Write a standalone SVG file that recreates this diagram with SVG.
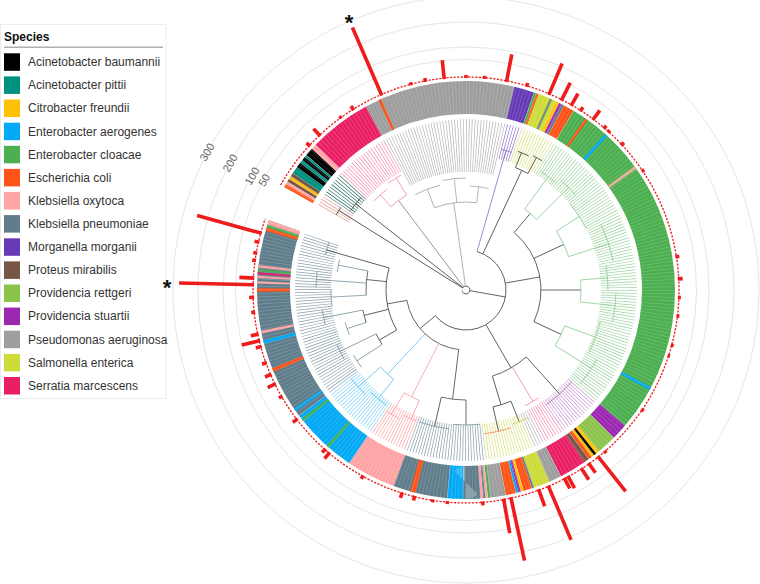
<svg xmlns="http://www.w3.org/2000/svg" width="760" height="584" viewBox="0 0 760 584">
<defs>
<style>
.ring{fill:none;stroke-width:33}
.lf{fill:none}
.t line,.t circle{fill:none;stroke-width:0.8}
.d{stroke:#4a4a4a}
.gy{stroke:#a8a8a8}
.pk{stroke:#f48fb1}
.gn{stroke:#8fcf92}
.kp{stroke:#7f97a3}
.bl{stroke:#5cc6f5}
.pu{stroke:#9575cd}
.bars line{stroke:#ee1c1c;stroke-width:3.6}
.grid{fill:none;stroke:#e6e6e6;stroke-width:1}
.lg text{font-family:"Liberation Sans",Arial,sans-serif;font-size:12px;fill:#333}
.sc{font-family:"Liberation Sans",Arial,sans-serif;font-size:11px;fill:#666}
.ast{font-family:"Liberation Sans",Arial,sans-serif;font-size:22px;font-weight:bold;fill:#111}
</style>
<mask id="lm" maskUnits="userSpaceOnUse" x="-300" y="-300" width="600" height="600">
<circle r="144.5" fill="none" stroke="#fff" stroke-width="53" pathLength="360" stroke-dasharray="0.28 0.72"/>
</mask>
</defs>
<rect width="760" height="584" fill="#fff"/>

<g id="legend" class="lg">
<rect x="0.5" y="24.5" width="165.5" height="374" fill="none" stroke="#ececec"/>
<text x="4" y="41" style="font-weight:bold;font-size:12px;fill:#111">Species</text>
<line x1="4" y1="47.3" x2="163" y2="47.3" stroke="#b0b0b0" stroke-width="1.5"/>
<g id="lg-ab"><rect x="4" y="53.3" width="16" height="17.5" fill="#000"/><text x="28" y="66.1">Acinetobacter baumannii</text></g>
<g id="lg-ap"><rect x="4" y="76.4" width="16" height="17.5" fill="#00917f"/><text x="28" y="89.2">Acinetobacter pittii</text></g>
<g id="lg-cf"><rect x="4" y="99.5" width="16" height="17.5" fill="#ffc107"/><text x="28" y="112.3">Citrobacter freundii</text></g>
<g id="lg-ea"><rect x="4" y="122.7" width="16" height="17.5" fill="#03a9f4"/><text x="28" y="135.5">Enterobacter aerogenes</text></g>
<g id="lg-ec"><rect x="4" y="145.8" width="16" height="17.5" fill="#4caf50"/><text x="28" y="158.6">Enterobacter cloacae</text></g>
<g id="lg-eco"><rect x="4" y="168.9" width="16" height="17.5" fill="#ff5317"/><text x="28" y="181.7">Escherichia coli</text></g>
<g id="lg-ko"><rect x="4" y="192.0" width="16" height="17.5" fill="#ffa4a4"/><text x="28" y="204.8">Klebsiella oxytoca</text></g>
<g id="lg-kp"><rect x="4" y="215.1" width="16" height="17.5" fill="#607d8b"/><text x="28" y="227.9">Klebsiella pneumoniae</text></g>
<g id="lg-mm"><rect x="4" y="238.3" width="16" height="17.5" fill="#673ab7"/><text x="28" y="251.1">Morganella morganii</text></g>
<g id="lg-pm"><rect x="4" y="261.4" width="16" height="17.5" fill="#795548"/><text x="28" y="274.2">Proteus mirabilis</text></g>
<g id="lg-pr"><rect x="4" y="284.5" width="16" height="17.5" fill="#8bc34a"/><text x="28" y="297.3">Providencia rettgeri</text></g>
<g id="lg-ps"><rect x="4" y="307.6" width="16" height="17.5" fill="#9c27b0"/><text x="28" y="320.4">Providencia stuartii</text></g>
<g id="lg-pa"><rect x="4" y="330.7" width="16" height="17.5" fill="#9e9e9e"/><text x="28" y="343.5">Pseudomonas aeruginosa</text></g>
<g id="lg-se"><rect x="4" y="353.9" width="16" height="17.5" fill="#cddc39"/><text x="28" y="366.7">Salmonella enterica</text></g>
<g id="lg-sm"><rect x="4" y="377.0" width="16" height="17.5" fill="#e91e63"/><text x="28" y="389.8">Serratia marcescens</text></g>
</g>

<g id="plot" transform="translate(466,290)">
<g id="grid">
<circle class="grid" r="230.5"/>
<circle class="grid" r="243"/>
<circle class="grid" r="268"/>
<circle class="grid" r="293"/>
</g>

<g id="leaves" mask="url(#lm)">
<circle class="lf" r="153" stroke-width="36" pathLength="360" stroke="#e0a090" stroke-dasharray="4.5 360" transform="rotate(-150.5)"/>
<circle class="lf" r="153" stroke-width="36" pathLength="360" stroke="#2f6f68" stroke-dasharray="8.5 360" transform="rotate(-146)"/>
<circle class="lf" r="153" stroke-width="36" pathLength="360" stroke="#f48fb1" stroke-dasharray="18.9 360" transform="rotate(-137.5)"/>
<circle class="lf" r="144.5" stroke-width="53" pathLength="360" stroke="#b5b5b5" stroke-dasharray="42 360" transform="rotate(-118.6)"/>
<circle class="lf" r="153" stroke-width="36" pathLength="360" stroke="#9575cd" stroke-dasharray="5.6 360" transform="rotate(-76.6)"/>
<circle class="lf" r="153" stroke-width="36" pathLength="360" stroke="#d9e27a" stroke-dasharray="12 360" transform="rotate(-71)"/>
<circle class="lf" r="153" stroke-width="36" pathLength="360" stroke="#9ed3a0" stroke-dasharray="99.5 360" transform="rotate(-59)"/>
<circle class="lf" r="153" stroke-width="36" pathLength="360" stroke="#c99ad6" stroke-dasharray="15 360" transform="rotate(40.5)"/>
<circle class="lf" r="153" stroke-width="36" pathLength="360" stroke="#f48fb1" stroke-dasharray="7.5 360" transform="rotate(55.5)"/>
<circle class="lf" r="153" stroke-width="36" pathLength="360" stroke="#b5b5b5" stroke-dasharray="3.5 360" transform="rotate(63)"/>
<circle class="lf" r="153" stroke-width="36" pathLength="360" stroke="#d9e27a" stroke-dasharray="16.8 360" transform="rotate(66.5)"/>
<circle class="lf" r="153" stroke-width="36" pathLength="360" stroke="#8aa0ab" stroke-dasharray="27 360" transform="rotate(83.3)"/>
<circle class="lf" r="153" stroke-width="36" pathLength="360" stroke="#ffa8a8" stroke-dasharray="13.7 360" transform="rotate(110.3)"/>
<circle class="lf" r="153" stroke-width="36" pathLength="360" stroke="#7fd0f7" stroke-dasharray="19 360" transform="rotate(124)"/>
<circle class="lf" r="153" stroke-width="36" pathLength="360" stroke="#8aa0ab" stroke-dasharray="56.5 360" transform="rotate(143)"/>
</g>

<g id="tree" class="t">
<circle class="d" r="4" pathLength="360" stroke-dasharray="318 360" transform="rotate(-148)"/>
<line class="d" x1="4" x2="150" transform="rotate(-148)"/>
<circle class="d" r="150" pathLength="360" stroke-dasharray="3.5 360" transform="rotate(-150)"/>
<line class="d" x1="4" x2="140" transform="rotate(-142)"/>
<circle class="d" r="140" pathLength="360" stroke-dasharray="7 360" transform="rotate(-145.5)"/>
<line class="gy" x1="4" x2="112" transform="rotate(-127)" style="stroke:#888"/>
<circle class="pk" r="112" pathLength="360" stroke-dasharray="10 360" transform="rotate(-132)"/>
<line class="pk" x1="112" x2="128" transform="rotate(-132)"/>
<circle class="pk" r="128" pathLength="360" stroke-dasharray="8 360" transform="rotate(-136)"/>
<line class="pk" x1="112" x2="132" transform="rotate(-122)"/>
<circle class="pk" r="132" pathLength="360" stroke-dasharray="6.5 360" transform="rotate(-126)"/>
<line class="gy" x1="4" x2="88" transform="rotate(-98)"/>
<circle class="gy" r="88" pathLength="360" stroke-dasharray="28 360" transform="rotate(-111)"/>
<line class="gy" x1="88" x2="108" transform="rotate(-111)"/>
<circle class="gy" r="108" pathLength="360" stroke-dasharray="14 360" transform="rotate(-118)"/>
<line class="gy" x1="88" x2="112" transform="rotate(-96)"/>
<circle class="gy" r="112" pathLength="360" stroke-dasharray="12 360" transform="rotate(-102)"/>
<line class="gy" x1="88" x2="104" transform="rotate(-83)"/>
<circle class="gy" r="104" pathLength="360" stroke-dasharray="10.5 360" transform="rotate(-88)"/>
<line class="d" x1="4" x2="40" transform="rotate(10)"/>
<circle class="d" r="40" pathLength="360" stroke-dasharray="214 360" transform="rotate(-74)"/>
<line class="pu" x1="40" x2="145" transform="rotate(-74)"/>
<circle class="pu" r="145" pathLength="360" stroke-dasharray="4.5 360" transform="rotate(-76)"/>
<line class="d" x1="40" x2="132" transform="rotate(-65)"/>
<circle class="d" r="132" pathLength="360" stroke-dasharray="6 360" transform="rotate(-68)"/>
<line class="d" x1="132" x2="148" transform="rotate(-68)"/>
<circle class="d" r="148" pathLength="360" stroke-dasharray="4.5 360" transform="rotate(-69.5)"/>
<line class="d" x1="132" x2="150" transform="rotate(-62)"/>
<circle class="d" r="150" pathLength="360" stroke-dasharray="4 360" transform="rotate(-63.5)"/>
<line class="d" x1="40" x2="75" transform="rotate(-10)"/>
<circle class="d" r="75" pathLength="360" stroke-dasharray="75 360" transform="rotate(-50)"/>
<line class="d" x1="75" x2="100" transform="rotate(-50)"/>
<circle class="gn" r="100" pathLength="360" stroke-dasharray="9 360" transform="rotate(-54)"/>
<line class="gn" x1="100" x2="140" transform="rotate(-54)"/>
<circle class="gn" r="140" pathLength="360" stroke-dasharray="8 360" transform="rotate(-58)"/>
<line class="gn" x1="100" x2="145" transform="rotate(-45)"/>
<circle class="gn" r="145" pathLength="360" stroke-dasharray="8 360" transform="rotate(-49)"/>
<line class="d" x1="75" x2="108" transform="rotate(-25)"/>
<circle class="gn" r="108" pathLength="360" stroke-dasharray="15 360" transform="rotate(-33)"/>
<line class="gn" x1="108" x2="135" transform="rotate(-33)"/>
<circle class="gn" r="135" pathLength="360" stroke-dasharray="12.5 360" transform="rotate(-39.5)"/>
<line class="gn" x1="108" x2="150" transform="rotate(-18)"/>
<circle class="gn" r="150" pathLength="360" stroke-dasharray="15 360" transform="rotate(-26)"/>
<line class="d" x1="75" x2="115" transform="rotate(0)"/>
<circle class="gn" r="115" pathLength="360" stroke-dasharray="11 360" transform="rotate(-5)"/>
<line class="gn" x1="115" x2="142" transform="rotate(-5)"/>
<circle class="gn" r="142" pathLength="360" stroke-dasharray="10 360" transform="rotate(-10)"/>
<line class="gn" x1="115" x2="150" transform="rotate(6)"/>
<circle class="gn" r="150" pathLength="360" stroke-dasharray="11 360" transform="rotate(1)"/>
<line class="d" x1="75" x2="105" transform="rotate(25)"/>
<circle class="gn" r="105" pathLength="360" stroke-dasharray="12 360" transform="rotate(20)"/>
<line class="gn" x1="105" x2="138" transform="rotate(20)"/>
<circle class="gn" r="138" pathLength="360" stroke-dasharray="14 360" transform="rotate(13)"/>
<line class="gn" x1="105" x2="148" transform="rotate(32)"/>
<circle class="gn" r="148" pathLength="360" stroke-dasharray="11.5 360" transform="rotate(28)"/>
<line class="d" x1="40" x2="90" transform="rotate(60)"/>
<circle class="d" r="90" pathLength="360" stroke-dasharray="25 360" transform="rotate(48)"/>
<line class="d" x1="90" x2="140" transform="rotate(48)"/>
<circle class="d" r="140" pathLength="360" stroke-dasharray="14 360" transform="rotate(41)" style="stroke:#ba68c8"/>
<line class="pk" x1="90" x2="130" transform="rotate(59)"/>
<circle class="pk" r="130" pathLength="360" stroke-dasharray="7 360" transform="rotate(56)"/>
<line class="d" x1="90" x2="120" transform="rotate(73)"/>
<circle class="d" r="120" pathLength="360" stroke-dasharray="9 360" transform="rotate(68)"/>
<line class="d" x1="120" x2="142" transform="rotate(68)"/>
<circle class="d" r="142" pathLength="360" stroke-dasharray="7 360" transform="rotate(64)" style="stroke:#c6d148"/>
<line class="d" x1="120" x2="145" transform="rotate(77)"/>
<circle class="d" r="145" pathLength="360" stroke-dasharray="11 360" transform="rotate(72)" style="stroke:#ff8a65"/>
<line class="d" x1="40" x2="60" transform="rotate(140)"/>
<circle class="d" r="60" pathLength="360" stroke-dasharray="73 360" transform="rotate(97)"/>
<line class="d" x1="60" x2="110" transform="rotate(97)"/>
<circle class="d" r="110" pathLength="360" stroke-dasharray="13 360" transform="rotate(90)"/>
<line class="d" x1="110" x2="135" transform="rotate(90)"/>
<circle class="kp" r="135" pathLength="360" stroke-dasharray="11.5 360" transform="rotate(84)"/>
<line class="d" x1="110" x2="140" transform="rotate(103)"/>
<circle class="kp" r="140" pathLength="360" stroke-dasharray="12.5 360" transform="rotate(97)"/>
<line class="pk" x1="60" x2="120" transform="rotate(117)" style="stroke:#f8a5a5"/>
<circle class="pk" r="120" pathLength="360" stroke-dasharray="8 360" transform="rotate(113)" style="stroke:#f8a5a5"/>
<line class="pk" x1="120" x2="140" transform="rotate(113)" style="stroke:#f8a5a5"/>
<circle class="pk" r="140" pathLength="360" stroke-dasharray="6 360" transform="rotate(110.5)" style="stroke:#f8a5a5"/>
<line class="pk" x1="120" x2="145" transform="rotate(121)" style="stroke:#f8a5a5"/>
<circle class="pk" r="145" pathLength="360" stroke-dasharray="6 360" transform="rotate(117.5)" style="stroke:#f8a5a5"/>
<line class="bl" x1="60" x2="115" transform="rotate(133)"/>
<circle class="bl" r="115" pathLength="360" stroke-dasharray="9 360" transform="rotate(129)"/>
<line class="bl" x1="115" x2="140" transform="rotate(129)"/>
<circle class="bl" r="140" pathLength="360" stroke-dasharray="8.5 360" transform="rotate(124.5)"/>
<line class="bl" x1="115" x2="145" transform="rotate(138)"/>
<circle class="bl" r="145" pathLength="360" stroke-dasharray="8.5 360" transform="rotate(134)"/>
<line class="d" x1="60" x2="80" transform="rotate(170)"/>
<circle class="d" r="80" pathLength="360" stroke-dasharray="46 360" transform="rotate(150)"/>
<line class="d" x1="80" x2="100" transform="rotate(150)"/>
<circle class="d" r="100" pathLength="360" stroke-dasharray="7 360" transform="rotate(147)"/>
<line class="kp" x1="100" x2="130" transform="rotate(147)"/>
<circle class="kp" r="130" pathLength="360" stroke-dasharray="6.5 360" transform="rotate(143.5)"/>
<line class="kp" x1="100" x2="140" transform="rotate(154)"/>
<circle class="kp" r="140" pathLength="360" stroke-dasharray="6.5 360" transform="rotate(150.5)"/>
<line class="d" x1="80" x2="105" transform="rotate(166)"/>
<circle class="d" r="105" pathLength="360" stroke-dasharray="7 360" transform="rotate(162)"/>
<line class="kp" x1="105" x2="125" transform="rotate(162)"/>
<circle class="kp" r="125" pathLength="360" stroke-dasharray="6 360" transform="rotate(159)"/>
<line class="kp" x1="105" x2="145" transform="rotate(169)"/>
<circle class="kp" r="145" pathLength="360" stroke-dasharray="6 360" transform="rotate(166)"/>
<line class="d" x1="80" x2="100" transform="rotate(186)"/>
<circle class="d" r="100" pathLength="360" stroke-dasharray="14 360" transform="rotate(177)"/>
<line class="kp" x1="100" x2="135" transform="rotate(177)"/>
<circle class="kp" r="135" pathLength="360" stroke-dasharray="7.5 360" transform="rotate(173)"/>
<line class="kp" x1="100" x2="150" transform="rotate(184)"/>
<circle class="kp" r="150" pathLength="360" stroke-dasharray="6 360" transform="rotate(181)"/>
<line class="kp" x1="100" x2="130" transform="rotate(191)"/>
<circle class="kp" r="130" pathLength="360" stroke-dasharray="5.5 360" transform="rotate(188)"/>
<line class="d" x1="80" x2="145" transform="rotate(196)"/>
<circle class="kp" r="145" pathLength="360" stroke-dasharray="5.5 360" transform="rotate(194)"/>
</g>

<g id="ring">
<circle class="ring" r="192.5" pathLength="360" stroke="#ff5317" stroke-dasharray="1 360" transform="rotate(-150.5)"/>
<circle class="ring" r="192.5" pathLength="360" stroke="#ffa4a4" stroke-dasharray="0.8 360" transform="rotate(-149.5)"/>
<circle class="ring" r="192.5" pathLength="360" stroke="#795548" stroke-dasharray="0.9 360" transform="rotate(-148.7)"/>
<circle class="ring" r="192.5" pathLength="360" stroke="#ffc107" stroke-dasharray="0.8 360" transform="rotate(-147.8)"/>
<circle class="ring" r="192.5" pathLength="360" stroke="#795548" stroke-dasharray="1 360" transform="rotate(-147)"/>
<circle class="ring" r="192.5" pathLength="360" stroke="#00917f" stroke-dasharray="2 360" transform="rotate(-146)"/>
<circle class="ring" r="192.5" pathLength="360" stroke="#000" stroke-dasharray="1.5 360" transform="rotate(-144)"/>
<circle class="ring" r="192.5" pathLength="360" stroke="#00917f" stroke-dasharray="1 360" transform="rotate(-142.5)"/>
<circle class="ring" r="192.5" pathLength="360" stroke="#000" stroke-dasharray="1 360" transform="rotate(-141.5)"/>
<circle class="ring" r="192.5" pathLength="360" stroke="#00917f" stroke-dasharray="0.7 360" transform="rotate(-140.5)"/>
<circle class="ring" r="192.5" pathLength="360" stroke="#000" stroke-dasharray="2.3 360" transform="rotate(-139.8)"/>
<circle class="ring" r="192.5" pathLength="360" stroke="#ffa4a4" stroke-dasharray="1.5 360" transform="rotate(-137.5)"/>
<circle class="ring" r="192.5" pathLength="360" stroke="#e91e63" stroke-dasharray="17.4 360" transform="rotate(-136)"/>
<circle class="ring" r="192.5" pathLength="360" stroke="#9e9e9e" stroke-dasharray="42 360" transform="rotate(-118.6)"/>
<circle class="ring" r="192.5" pathLength="360" stroke="#ff5317" stroke-dasharray="0.8 360" transform="rotate(-114.8)"/>
<circle class="ring" r="192.5" pathLength="360" stroke="#673ab7" stroke-dasharray="5.6 360" transform="rotate(-76.6)"/>
<circle class="ring" r="192.5" pathLength="360" stroke="#4caf50" stroke-dasharray="0.7 360" transform="rotate(-71)"/>
<circle class="ring" r="192.5" pathLength="360" stroke="#ff5317" stroke-dasharray="0.7 360" transform="rotate(-70.3)"/>
<circle class="ring" r="192.5" pathLength="360" stroke="#cddc39" stroke-dasharray="5.1 360" transform="rotate(-69.6)"/>
<circle class="ring" r="192.5" pathLength="360" stroke="#607d8b" stroke-dasharray="0.6 360" transform="rotate(-66.3)"/>
<circle class="ring" r="192.5" pathLength="360" stroke="#ffc107" stroke-dasharray="1 360" transform="rotate(-64.5)"/>
<circle class="ring" r="192.5" pathLength="360" stroke="#9c27b0" stroke-dasharray="0.8 360" transform="rotate(-63.5)"/>
<circle class="ring" r="192.5" pathLength="360" stroke="#607d8b" stroke-dasharray="0.7 360" transform="rotate(-62.7)"/>
<circle class="ring" r="192.5" pathLength="360" stroke="#ff5317" stroke-dasharray="3 360" transform="rotate(-62)"/>
<circle class="ring" r="192.5" pathLength="360" stroke="#4caf50" stroke-dasharray="99.5 360" transform="rotate(-59)"/>
<circle class="ring" r="192.5" pathLength="360" stroke="#ff5317" stroke-dasharray="0.8 360" transform="rotate(-55.2)"/>
<circle class="ring" r="192.5" pathLength="360" stroke="#03a9f4" stroke-dasharray="0.9 360" transform="rotate(-48.3)"/>
<circle class="ring" r="192.5" pathLength="360" stroke="#dcae95" stroke-dasharray="0.9 360" transform="rotate(-36.3)"/>
<circle class="ring" r="192.5" pathLength="360" stroke="#03a9f4" stroke-dasharray="0.9 360" transform="rotate(27.7)"/>
<circle class="ring" r="192.5" pathLength="360" stroke="#9c27b0" stroke-dasharray="4.5 360" transform="rotate(40.5)"/>
<circle class="ring" r="192.5" pathLength="360" stroke="#8bc34a" stroke-dasharray="5.5 360" transform="rotate(45)"/>
<circle class="ring" r="192.5" pathLength="360" stroke="#ffc107" stroke-dasharray="1 360" transform="rotate(50.5)"/>
<circle class="ring" r="192.5" pathLength="360" stroke="#000" stroke-dasharray="0.8 360" transform="rotate(51.5)"/>
<circle class="ring" r="192.5" pathLength="360" stroke="#ffc107" stroke-dasharray="0.7 360" transform="rotate(52.3)"/>
<circle class="ring" r="192.5" pathLength="360" stroke="#ff5317" stroke-dasharray="1 360" transform="rotate(53)"/>
<circle class="ring" r="192.5" pathLength="360" stroke="#795548" stroke-dasharray="1.5 360" transform="rotate(54)"/>
<circle class="ring" r="192.5" pathLength="360" stroke="#e91e63" stroke-dasharray="7.5 360" transform="rotate(55.5)"/>
<circle class="ring" r="192.5" pathLength="360" stroke="#9e9e9e" stroke-dasharray="3.5 360" transform="rotate(63)"/>
<circle class="ring" r="192.5" pathLength="360" stroke="#cddc39" stroke-dasharray="4.5 360" transform="rotate(66.5)"/>
<circle class="ring" r="192.5" pathLength="360" stroke="#607d8b" stroke-dasharray="0.6 360" transform="rotate(71)"/>
<circle class="ring" r="192.5" pathLength="360" stroke="#ff5317" stroke-dasharray="2.4 360" transform="rotate(71.6)"/>
<circle class="ring" r="192.5" pathLength="360" stroke="#ffc107" stroke-dasharray="0.8 360" transform="rotate(74)"/>
<circle class="ring" r="192.5" pathLength="360" stroke="#9c27b0" stroke-dasharray="0.7 360" transform="rotate(74.8)"/>
<circle class="ring" r="192.5" pathLength="360" stroke="#03a9f4" stroke-dasharray="0.7 360" transform="rotate(75.5)"/>
<circle class="ring" r="192.5" pathLength="360" stroke="#ff5317" stroke-dasharray="2.8 360" transform="rotate(76.2)"/>
<circle class="ring" r="192.5" pathLength="360" stroke="#9e9e9e" stroke-dasharray="4.3 360" transform="rotate(79)"/>
<circle class="ring" r="192.5" pathLength="360" stroke="#4caf50" stroke-dasharray="0.7 360" transform="rotate(83.3)"/>
<circle class="ring" r="192.5" pathLength="360" stroke="#ffa4a4" stroke-dasharray="0.7 360" transform="rotate(84)"/>
<circle class="ring" r="192.5" pathLength="360" stroke="#607d8b" stroke-dasharray="0.6 360" transform="rotate(84.7)"/>
<circle class="ring" r="192.5" pathLength="360" stroke="#ffa4a4" stroke-dasharray="0.7 360" transform="rotate(85.3)"/>
<circle class="ring" r="192.5" pathLength="360" stroke="#607d8b" stroke-dasharray="4.8 360" transform="rotate(86)"/>
<circle class="ring" r="192.5" pathLength="360" stroke="#03a9f4" stroke-dasharray="4.4 360" transform="rotate(90.8)"/>
<circle class="ring" r="192.5" pathLength="360" stroke="#607d8b" stroke-dasharray="15.1 360" transform="rotate(95.2)"/>
<circle class="ring" r="192.5" pathLength="360" stroke="#ff5317" stroke-dasharray="1.5 360" transform="rotate(104)"/>
<circle class="ring" r="192.5" pathLength="360" stroke="#ffa4a4" stroke-dasharray="13.7 360" transform="rotate(110.3)"/>
<circle class="ring" r="192.5" pathLength="360" stroke="#03a9f4" stroke-dasharray="19 360" transform="rotate(124)"/>
<circle class="ring" r="192.5" pathLength="360" stroke="#4caf50" stroke-dasharray="0.8 360" transform="rotate(131)"/>
<circle class="ring" r="192.5" pathLength="360" stroke="#4caf50" stroke-dasharray="0.8 360" transform="rotate(141)"/>
<circle class="ring" r="192.5" pathLength="360" stroke="#607d8b" stroke-dasharray="56.5 360" transform="rotate(143)"/>
<circle class="ring" r="192.5" pathLength="360" stroke="#03a9f4" stroke-dasharray="0.9 360" transform="rotate(144.5)"/>
<circle class="ring" r="192.5" pathLength="360" stroke="#ff5317" stroke-dasharray="1 360" transform="rotate(157)"/>
<circle class="ring" r="192.5" pathLength="360" stroke="#03a9f4" stroke-dasharray="1 360" transform="rotate(165)"/>
<circle class="ring" r="192.5" pathLength="360" stroke="#ffa4a4" stroke-dasharray="0.8 360" transform="rotate(168)"/>
<circle class="ring" r="192.5" pathLength="360" stroke="#ff5317" stroke-dasharray="1 360" transform="rotate(179.5)"/>
<circle class="ring" r="192.5" pathLength="360" stroke="#ffa4a4" stroke-dasharray="0.6 360" transform="rotate(181.8)"/>
<circle class="ring" r="192.5" pathLength="360" stroke="#ffa4a4" stroke-dasharray="0.6 360" transform="rotate(183.3)"/>
<circle class="ring" r="192.5" pathLength="360" stroke="#e91e63" stroke-dasharray="0.6 360" transform="rotate(184.3)"/>
<circle class="ring" r="192.5" pathLength="360" stroke="#4caf50" stroke-dasharray="0.6 360" transform="rotate(185.2)"/>
<circle class="ring" r="192.5" pathLength="360" stroke="#ffa4a4" stroke-dasharray="0.7 360" transform="rotate(186.2)"/>
<circle class="ring" r="192.5" pathLength="360" stroke="#ff5317" stroke-dasharray="1 360" transform="rotate(196.5)"/>
<circle class="ring" r="192.5" pathLength="360" stroke="#4caf50" stroke-dasharray="0.8 360" transform="rotate(197.5)"/>
<circle class="ring" r="192.5" pathLength="360" stroke="#ffa4a4" stroke-dasharray="1.2 360" transform="rotate(198.3)"/>
<circle class="ring" r="192.5" pathLength="360" stroke="#fff" stroke-opacity="0.28" stroke-dasharray="0.15 0.85"/>
</g>

<path d="M-185.39,-104.89 A213,213 0 1 1 -200.78,-71.10" fill="none" stroke="#ee1c1c" stroke-width="1.3" stroke-dasharray="2.2 1.4"/>

<g id="bars" class="bars">
<line x1="212" x2="286" transform="rotate(-113.4)"/>
<line x1="212" x2="287" transform="rotate(181.4)"/>
<line x1="212" x2="279" transform="rotate(195.5)"/>
<line x1="212" x2="277" transform="rotate(77.8)"/>
<line x1="212" x2="271" transform="rotate(67.2)"/>
<line x1="212" x2="247" transform="rotate(79.8)"/>
<line x1="212" x2="257" transform="rotate(51.6)"/>
<line x1="212" x2="230" transform="rotate(70)"/>
<line x1="212" x2="226" transform="rotate(61.3)"/>
<line x1="212" x2="224" transform="rotate(62.4)"/>
<line x1="212" x2="226" transform="rotate(57.1)"/>
<line x1="212" x2="224" transform="rotate(54.7)"/>
<line x1="212" x2="240" transform="rotate(-79)"/>
<line x1="212" x2="246" transform="rotate(-67)"/>
<line x1="212" x2="232" transform="rotate(-63.3)"/>
<line x1="212" x2="226" transform="rotate(-60.3)"/>
<line x1="212" x2="224" transform="rotate(-53.3)"/>
<line x1="212" x2="231" transform="rotate(-95.9)"/>
<line x1="212" x2="222" transform="rotate(-133.4)"/>
<line x1="212" x2="217" transform="rotate(193)"/>
<line x1="212" x2="227" transform="rotate(183.2)"/>
<line x1="212" x2="220" transform="rotate(168)"/>
<line x1="212" x2="231" transform="rotate(166.2)"/>
<line x1="212" x2="218" transform="rotate(164.6)"/>
<line x1="212" x2="219" transform="rotate(156.6)"/>
<line x1="212" x2="221" transform="rotate(153.8)"/>
<line x1="212" x2="216" transform="rotate(190)"/>
<line x1="212" x2="216" transform="rotate(188)"/>
<line x1="212" x2="217" transform="rotate(178)"/>
<line x1="212" x2="216" transform="rotate(174)"/>
<line x1="212" x2="217" transform="rotate(160)"/>
<line x1="212" x2="216" transform="rotate(150)"/>
<line x1="212" x2="218" transform="rotate(142.6)"/>
<line x1="212" x2="220" transform="rotate(130)"/>
<line x1="212" x2="217" transform="rotate(131.5)"/>
<line x1="212" x2="216" transform="rotate(119)"/>
<line x1="212" x2="218" transform="rotate(107.5)"/>
<line x1="212" x2="217" transform="rotate(104)"/>
<line x1="212" x2="215" transform="rotate(99)"/>
<line x1="212" x2="215" transform="rotate(95)"/>
<line x1="212" x2="216" transform="rotate(85.5)"/>
<line x1="212" x2="216" transform="rotate(-9)"/>
<line x1="212" x2="217" transform="rotate(-3)"/>
<line x1="212" x2="215" transform="rotate(2)"/>
<line x1="212" x2="215" transform="rotate(7)"/>
<line x1="212" x2="215" transform="rotate(15)"/>
<line x1="212" x2="214.5" transform="rotate(18)"/>
<line x1="212" x2="215" transform="rotate(34.2)"/>
<line x1="212" x2="215" transform="rotate(49.3)"/>
<line x1="212" x2="216" transform="rotate(-43)"/>
<line x1="212" x2="216" transform="rotate(-49.5)"/>
<line x1="212" x2="215" transform="rotate(-48)"/>
<line x1="212" x2="217" transform="rotate(-57.4)"/>
<line x1="212" x2="216" transform="rotate(-73.4)"/>
<line x1="212" x2="215" transform="rotate(-34)"/>
<line x1="212" x2="216" transform="rotate(-101)"/>
<line x1="212" x2="217" transform="rotate(-122)"/>
<line x1="212" x2="217" transform="rotate(-137.3)"/>
<line x1="212" x2="215" transform="rotate(-90)"/>
<line x1="212" x2="215" transform="rotate(-85)"/>
<line x1="212" x2="215" transform="rotate(-105)"/>
<line x1="212" x2="215" transform="rotate(-126)"/>
</g>
</g>

<g id="scale">
<text class="sc" x="207" y="152" text-anchor="middle" dominant-baseline="central" transform="rotate(-60 207 152)">300</text>
<text class="sc" x="230" y="163" text-anchor="middle" dominant-baseline="central" transform="rotate(-60 230 163)">200</text>
<text class="sc" x="252" y="176" text-anchor="middle" dominant-baseline="central" transform="rotate(-60 252 176)">100</text>
<text class="sc" x="264" y="180" text-anchor="middle" dominant-baseline="central" transform="rotate(-60 264 180)">50</text>
</g>

<g id="marks">
<text class="ast" x="349" y="30" text-anchor="middle">*</text>
<text class="ast" x="167" y="295" text-anchor="middle">*</text>
</g>
</svg>
